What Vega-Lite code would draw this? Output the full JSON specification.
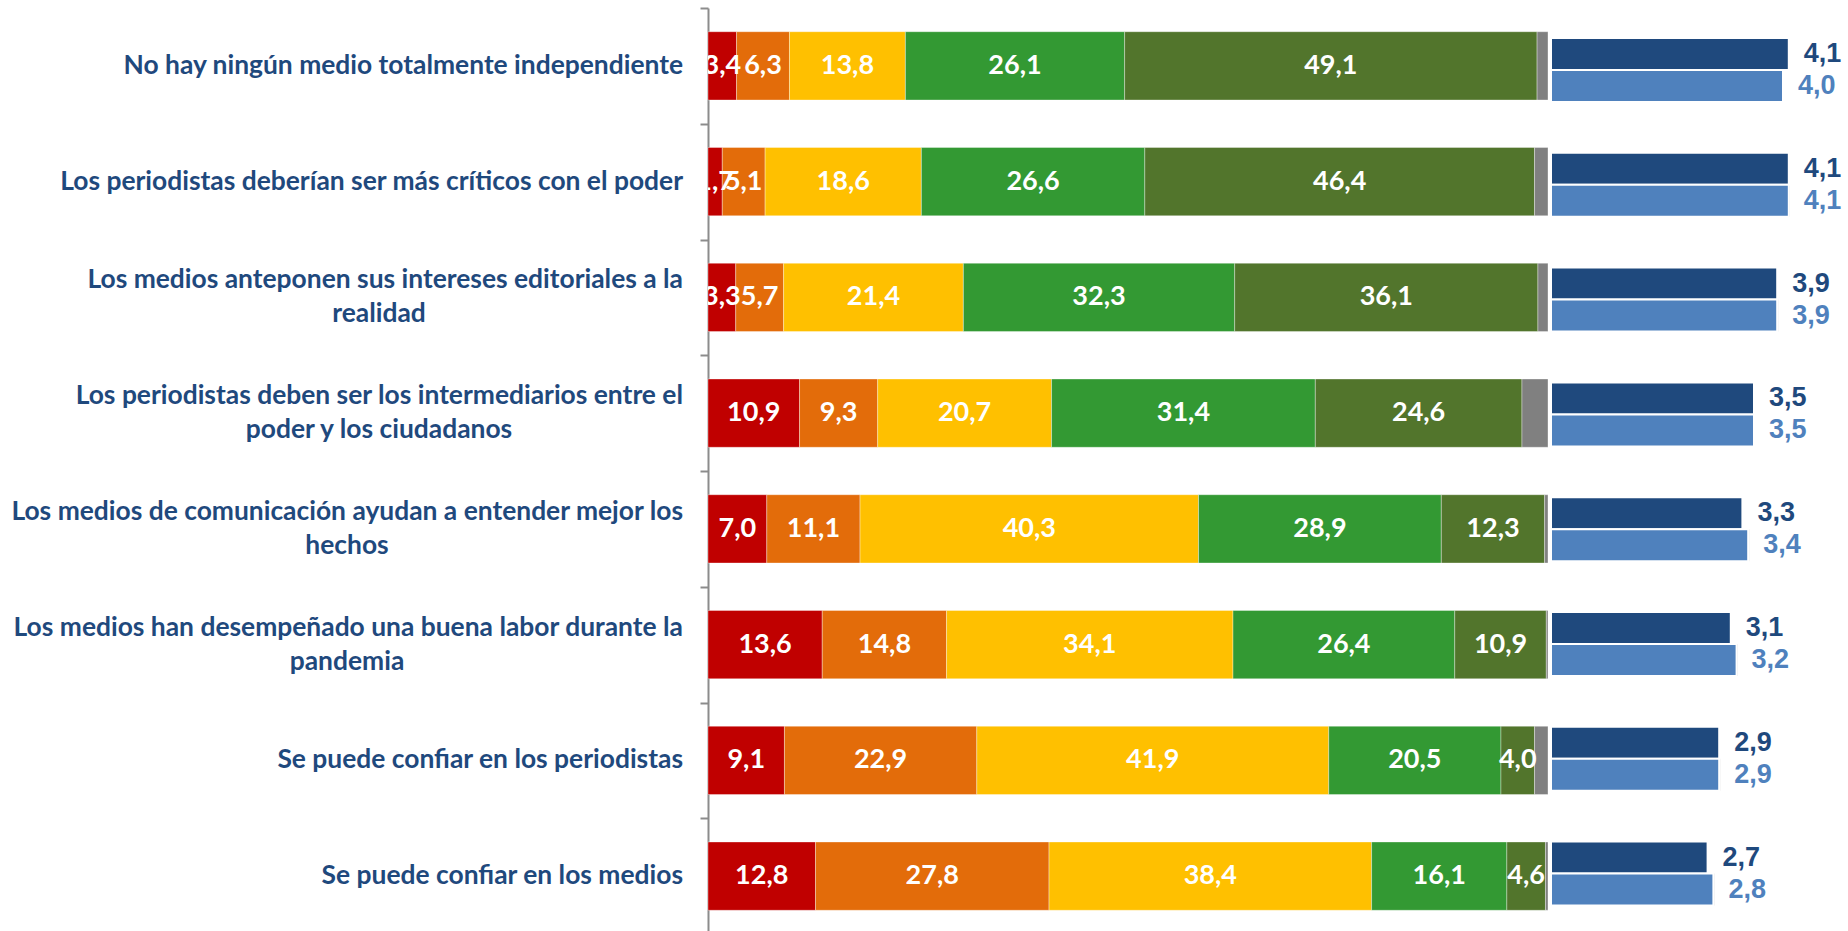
{
  "$schema": "https://vega.github.io/schema/vega-lite/v6.json",
  "background": "white",
  "padding": {"left": 8, "top": 7, "right": 0, "bottom": 0},
  "spacing": 1,
  "resolve": {"scale": {"color": "independent"}},
  "config": {
    "view": {"stroke": null},
    "locale": {"number": {"decimal": ",", "thousands": ".", "grouping": [3], "currency": ["", " €"]}}
  },
  "datasets": {
    "likert": [
      {"pregunta": "No hay ningún medio totalmente independiente", "respuesta": "1 Totalmente en desacuerdo", "pct": 3.4},
      {"pregunta": "No hay ningún medio totalmente independiente", "respuesta": "2 En desacuerdo", "pct": 6.3},
      {"pregunta": "No hay ningún medio totalmente independiente", "respuesta": "3 Ni de acuerdo ni en desacuerdo", "pct": 13.8},
      {"pregunta": "No hay ningún medio totalmente independiente", "respuesta": "4 De acuerdo", "pct": 26.1},
      {"pregunta": "No hay ningún medio totalmente independiente", "respuesta": "5 Totalmente de acuerdo", "pct": 49.1},
      {"pregunta": "No hay ningún medio totalmente independiente", "respuesta": "NS/NC", "pct": 1.3},

      {"pregunta": "Los periodistas deberían ser más críticos con el poder", "respuesta": "1 Totalmente en desacuerdo", "pct": 1.7},
      {"pregunta": "Los periodistas deberían ser más críticos con el poder", "respuesta": "2 En desacuerdo", "pct": 5.1},
      {"pregunta": "Los periodistas deberían ser más críticos con el poder", "respuesta": "3 Ni de acuerdo ni en desacuerdo", "pct": 18.6},
      {"pregunta": "Los periodistas deberían ser más críticos con el poder", "respuesta": "4 De acuerdo", "pct": 26.6},
      {"pregunta": "Los periodistas deberían ser más críticos con el poder", "respuesta": "5 Totalmente de acuerdo", "pct": 46.4},
      {"pregunta": "Los periodistas deberían ser más críticos con el poder", "respuesta": "NS/NC", "pct": 1.6},

      {"pregunta": "Los medios anteponen sus intereses editoriales a la\nrealidad", "respuesta": "1 Totalmente en desacuerdo", "pct": 3.3},
      {"pregunta": "Los medios anteponen sus intereses editoriales a la\nrealidad", "respuesta": "2 En desacuerdo", "pct": 5.7},
      {"pregunta": "Los medios anteponen sus intereses editoriales a la\nrealidad", "respuesta": "3 Ni de acuerdo ni en desacuerdo", "pct": 21.4},
      {"pregunta": "Los medios anteponen sus intereses editoriales a la\nrealidad", "respuesta": "4 De acuerdo", "pct": 32.3},
      {"pregunta": "Los medios anteponen sus intereses editoriales a la\nrealidad", "respuesta": "5 Totalmente de acuerdo", "pct": 36.1},
      {"pregunta": "Los medios anteponen sus intereses editoriales a la\nrealidad", "respuesta": "NS/NC", "pct": 1.2},

      {"pregunta": "Los periodistas deben ser los intermediarios entre el\npoder y los ciudadanos", "respuesta": "1 Totalmente en desacuerdo", "pct": 10.9},
      {"pregunta": "Los periodistas deben ser los intermediarios entre el\npoder y los ciudadanos", "respuesta": "2 En desacuerdo", "pct": 9.3},
      {"pregunta": "Los periodistas deben ser los intermediarios entre el\npoder y los ciudadanos", "respuesta": "3 Ni de acuerdo ni en desacuerdo", "pct": 20.7},
      {"pregunta": "Los periodistas deben ser los intermediarios entre el\npoder y los ciudadanos", "respuesta": "4 De acuerdo", "pct": 31.4},
      {"pregunta": "Los periodistas deben ser los intermediarios entre el\npoder y los ciudadanos", "respuesta": "5 Totalmente de acuerdo", "pct": 24.6},
      {"pregunta": "Los periodistas deben ser los intermediarios entre el\npoder y los ciudadanos", "respuesta": "NS/NC", "pct": 3.1},

      {"pregunta": "Los medios de comunicación ayudan a entender mejor los\nhechos", "respuesta": "1 Totalmente en desacuerdo", "pct": 7.0},
      {"pregunta": "Los medios de comunicación ayudan a entender mejor los\nhechos", "respuesta": "2 En desacuerdo", "pct": 11.1},
      {"pregunta": "Los medios de comunicación ayudan a entender mejor los\nhechos", "respuesta": "3 Ni de acuerdo ni en desacuerdo", "pct": 40.3},
      {"pregunta": "Los medios de comunicación ayudan a entender mejor los\nhechos", "respuesta": "4 De acuerdo", "pct": 28.9},
      {"pregunta": "Los medios de comunicación ayudan a entender mejor los\nhechos", "respuesta": "5 Totalmente de acuerdo", "pct": 12.3},
      {"pregunta": "Los medios de comunicación ayudan a entender mejor los\nhechos", "respuesta": "NS/NC", "pct": 0.4},

      {"pregunta": "Los medios han desempeñado una buena labor durante la\npandemia", "respuesta": "1 Totalmente en desacuerdo", "pct": 13.6},
      {"pregunta": "Los medios han desempeñado una buena labor durante la\npandemia", "respuesta": "2 En desacuerdo", "pct": 14.8},
      {"pregunta": "Los medios han desempeñado una buena labor durante la\npandemia", "respuesta": "3 Ni de acuerdo ni en desacuerdo", "pct": 34.1},
      {"pregunta": "Los medios han desempeñado una buena labor durante la\npandemia", "respuesta": "4 De acuerdo", "pct": 26.4},
      {"pregunta": "Los medios han desempeñado una buena labor durante la\npandemia", "respuesta": "5 Totalmente de acuerdo", "pct": 10.9},
      {"pregunta": "Los medios han desempeñado una buena labor durante la\npandemia", "respuesta": "NS/NC", "pct": 0.2},

      {"pregunta": "Se puede confiar en los periodistas", "respuesta": "1 Totalmente en desacuerdo", "pct": 9.1},
      {"pregunta": "Se puede confiar en los periodistas", "respuesta": "2 En desacuerdo", "pct": 22.9},
      {"pregunta": "Se puede confiar en los periodistas", "respuesta": "3 Ni de acuerdo ni en desacuerdo", "pct": 41.9},
      {"pregunta": "Se puede confiar en los periodistas", "respuesta": "4 De acuerdo", "pct": 20.5},
      {"pregunta": "Se puede confiar en los periodistas", "respuesta": "5 Totalmente de acuerdo", "pct": 4.0},
      {"pregunta": "Se puede confiar en los periodistas", "respuesta": "NS/NC", "pct": 1.6},

      {"pregunta": "Se puede confiar en los medios", "respuesta": "1 Totalmente en desacuerdo", "pct": 12.8},
      {"pregunta": "Se puede confiar en los medios", "respuesta": "2 En desacuerdo", "pct": 27.8},
      {"pregunta": "Se puede confiar en los medios", "respuesta": "3 Ni de acuerdo ni en desacuerdo", "pct": 38.4},
      {"pregunta": "Se puede confiar en los medios", "respuesta": "4 De acuerdo", "pct": 16.1},
      {"pregunta": "Se puede confiar en los medios", "respuesta": "5 Totalmente de acuerdo", "pct": 4.6},
      {"pregunta": "Se puede confiar en los medios", "respuesta": "NS/NC", "pct": 0.3}
    ],
    "medias": [
      {"pregunta": "No hay ningún medio totalmente independiente", "grupo": "Grupo 1", "media": 4.1},
      {"pregunta": "No hay ningún medio totalmente independiente", "grupo": "Grupo 2", "media": 4.0},
      {"pregunta": "Los periodistas deberían ser más críticos con el poder", "grupo": "Grupo 1", "media": 4.1},
      {"pregunta": "Los periodistas deberían ser más críticos con el poder", "grupo": "Grupo 2", "media": 4.1},
      {"pregunta": "Los medios anteponen sus intereses editoriales a la\nrealidad", "grupo": "Grupo 1", "media": 3.9},
      {"pregunta": "Los medios anteponen sus intereses editoriales a la\nrealidad", "grupo": "Grupo 2", "media": 3.9},
      {"pregunta": "Los periodistas deben ser los intermediarios entre el\npoder y los ciudadanos", "grupo": "Grupo 1", "media": 3.5},
      {"pregunta": "Los periodistas deben ser los intermediarios entre el\npoder y los ciudadanos", "grupo": "Grupo 2", "media": 3.5},
      {"pregunta": "Los medios de comunicación ayudan a entender mejor los\nhechos", "grupo": "Grupo 1", "media": 3.3},
      {"pregunta": "Los medios de comunicación ayudan a entender mejor los\nhechos", "grupo": "Grupo 2", "media": 3.4},
      {"pregunta": "Los medios han desempeñado una buena labor durante la\npandemia", "grupo": "Grupo 1", "media": 3.1},
      {"pregunta": "Los medios han desempeñado una buena labor durante la\npandemia", "grupo": "Grupo 2", "media": 3.2},
      {"pregunta": "Se puede confiar en los periodistas", "grupo": "Grupo 1", "media": 2.9},
      {"pregunta": "Se puede confiar en los periodistas", "grupo": "Grupo 2", "media": 2.9},
      {"pregunta": "Se puede confiar en los medios", "grupo": "Grupo 1", "media": 2.7},
      {"pregunta": "Se puede confiar en los medios", "grupo": "Grupo 2", "media": 2.8}
    ]
  },
  "hconcat": [
    {
      "width": 840,
      "height": 926,
      "data": {"name": "likert"},
      "encoding": {
        "y": {
          "field": "pregunta",
          "type": "nominal",
          "sort": null,
          "scale": {"paddingInner": 0.41, "paddingOuter": 0.205},
          "axis": {
            "title": null,
            "labels": false,
            "domainColor": "#8c8c8c",
            "domainWidth": 2,
            "tickColor": "#8c8c8c",
            "tickWidth": 2,
            "tickSize": 8,
            "tickOffset": -57.875,
            "minExtent": 700,
            "maxExtent": 700
          }
        }
      },
      "layer": [
        {
          "mark": {"type": "bar", "stroke": "white", "strokeWidth": 1, "strokeOpacity": 0.35},
          "encoding": {
            "x": {"field": "pct", "type": "quantitative", "stack": "zero", "scale": {"domain": [0, 100]}, "axis": null},
            "order": {"field": "respuesta", "type": "nominal", "sort": "ascending"},
            "color": {
              "field": "respuesta",
              "type": "nominal",
              "sort": ["1 Totalmente en desacuerdo", "2 En desacuerdo", "3 Ni de acuerdo ni en desacuerdo", "4 De acuerdo", "5 Totalmente de acuerdo", "NS/NC"],
              "scale": {
                "domain": ["1 Totalmente en desacuerdo", "2 En desacuerdo", "3 Ni de acuerdo ni en desacuerdo", "4 De acuerdo", "5 Totalmente de acuerdo", "NS/NC"],
                "range": ["#C00000", "#E36C0A", "#FFC000", "#339933", "#52752C", "#808080"]
              },
              "legend": null
            }
          }
        },
        {
          "transform": [{"filter": "datum.respuesta !== 'NS/NC'"}],
          "mark": {"type": "text", "clip": true, "color": "white", "font": "Lato", "fontWeight": "bold", "fontSize": 27, "baseline": "middle"},
          "encoding": {
            "x": {"field": "pct", "type": "quantitative", "stack": "zero", "bandPosition": 0.5},
            "order": {"field": "respuesta", "type": "nominal", "sort": "ascending"},
            "detail": {"field": "respuesta", "type": "nominal"},
            "text": {"field": "pct", "type": "quantitative", "format": ".1f"}
          }
        },
        {
          "transform": [
            {"filter": "datum.respuesta === 'NS/NC' && indexof(datum.pregunta, '\\n') < 0"}
          ],
          "mark": {"type": "text", "align": "right", "baseline": "middle", "dx": -25, "font": "Lato", "fontWeight": "bold", "fontSize": 26.4, "color": "#1F497D"},
          "encoding": {
            "x": {"datum": 0, "type": "quantitative"},
            "text": {"field": "pregunta", "type": "nominal"}
          }
        },
        {
          "transform": [
            {"filter": "datum.respuesta === 'NS/NC' && indexof(datum.pregunta, '\\n') >= 0"},
            {"calculate": "split(datum.pregunta, '\\n')[0]", "as": "linea1"}
          ],
          "mark": {"type": "text", "align": "right", "baseline": "middle", "dx": -25, "dy": -17, "font": "Lato", "fontWeight": "bold", "fontSize": 26.4, "color": "#1F497D"},
          "encoding": {
            "x": {"datum": 0, "type": "quantitative"},
            "text": {"field": "linea1", "type": "nominal"}
          }
        },
        {
          "transform": [
            {"filter": "datum.respuesta === 'NS/NC' && (indexof(datum.pregunta, 'realidad') >= 0 || indexof(datum.pregunta, 'ciudadanos') >= 0)"},
            {"calculate": "split(datum.pregunta, '\\n')[1]", "as": "linea2"}
          ],
          "mark": {"type": "text", "align": "center", "baseline": "middle", "dx": -329, "dy": 17, "font": "Lato", "fontWeight": "bold", "fontSize": 26.4, "color": "#1F497D"},
          "encoding": {
            "x": {"datum": 0, "type": "quantitative"},
            "text": {"field": "linea2", "type": "nominal"}
          }
        },
        {
          "transform": [
            {"filter": "datum.respuesta === 'NS/NC' && (indexof(datum.pregunta, 'hechos') >= 0 || indexof(datum.pregunta, 'pandemia') >= 0)"},
            {"calculate": "split(datum.pregunta, '\\n')[1]", "as": "linea2"}
          ],
          "mark": {"type": "text", "align": "center", "baseline": "middle", "dx": -361, "dy": 17, "font": "Lato", "fontWeight": "bold", "fontSize": 26.4, "color": "#1F497D"},
          "encoding": {
            "x": {"datum": 0, "type": "quantitative"},
            "text": {"field": "linea2", "type": "nominal"}
          }
        }
      ]
    },
    {
      "width": 290,
      "height": 926,
      "data": {"name": "medias"},
      "encoding": {
        "y": {
          "field": "pregunta",
          "type": "nominal",
          "sort": null,
          "scale": {"range": [4.6, 923], "paddingInner": 0.4425, "paddingOuter": 0.22125},
          "axis": null
        },
        "x": {"field": "media", "type": "quantitative", "scale": {"domain": [0, 5]}, "axis": null},
        "yOffset": {"field": "grupo", "type": "nominal", "sort": ["Grupo 1", "Grupo 2"], "scale": {"paddingInner": 0, "paddingOuter": 0}}
      },
      "layer": [
        {
          "transform": [{"filter": "datum.grupo === 'Grupo 2'"}],
          "mark": {"type": "bar", "color": "#000000", "opacity": 0.18, "xOffset": 1, "yOffset": 4}
        },
        {
          "mark": {"type": "bar", "stroke": "white", "strokeWidth": 2},
          "encoding": {
            "color": {"field": "grupo", "type": "nominal", "scale": {"domain": ["Grupo 1", "Grupo 2"], "range": ["#1F497D", "#4F81BD"]}, "legend": null}
          }
        },
        {
          "mark": {"type": "text", "align": "left", "baseline": "middle", "dx": 15, "font": "Liberation Sans", "fontWeight": "bold", "fontSize": 27},
          "encoding": {
            "text": {"field": "media", "type": "quantitative", "format": ".1f"},
            "color": {"field": "grupo", "type": "nominal", "scale": {"domain": ["Grupo 1", "Grupo 2"], "range": ["#1F497D", "#4F81BD"]}, "legend": null}
          }
        }
      ]
    }
  ]
}
